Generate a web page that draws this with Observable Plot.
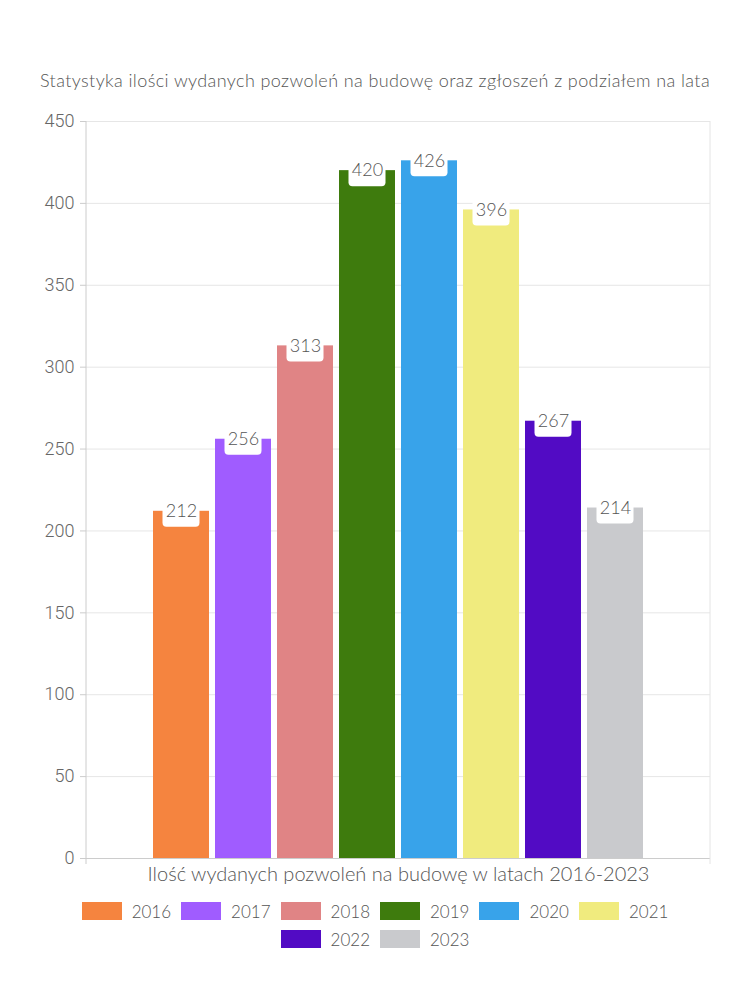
<!DOCTYPE html>
<html>
<head>
<meta charset="utf-8">
<script src="https://cdn.jsdelivr.net/npm/d3@7"></script>
<script src="https://cdn.jsdelivr.net/npm/@observablehq/plot@0.6"></script>
<style>
  body { margin: 0; background: #fff; width: 750px; }
  #title { height: 100px; position: relative; }
  #title span { position: absolute; left: 0; right: 0; top: 69px; text-align: center; font-family: Lato, "Noto Sans", sans-serif; font-weight: 300; font-size: 18px; color: #555; letter-spacing: 0.4px; white-space: nowrap; }
  #legend { display: flex; flex-wrap: wrap; justify-content: center; width: 640px; margin: 4px auto 0; row-gap: 10px; column-gap: 10px; font-family: Lato, "Noto Sans", sans-serif; font-weight: 300; font-size: 17px; letter-spacing: 0px; color: #555; }
  .item { display: flex; align-items: center; gap: 10px; height: 18px; }
  .sw { width: 40px; height: 18px; }
</style>
</head>
<body>
<div id="title"><span>Statystyka ilości wydanych pozwoleń na budowę oraz zgłoszeń z podziałem na lata</span></div>
<div id="chart"></div>
<div id="legend"></div>
<script>
const years = ["2016", "2017", "2018", "2019", "2020", "2021", "2022", "2023"];
const values = [212, 256, 313, 420, 426, 396, 267, 214];
const colors = ["#F5843F", "#A05CFF", "#E08485", "#3E7B0D", "#38A3EA", "#F0EB7E", "#520BC4", "#C9CACD"];
const yTicks = [0, 50, 100, 150, 200, 250, 300, 350, 400, 450];
const xLabel = "Ilość wydanych pozwoleń na budowę w latach 2016-2023";

const data = years.map((year, i) => ({year, value: values[i]}));

const sideLines = (index, scales, values, dims) => {
  const g = d3.create("svg:g");
  const y0 = scales.y(0), y1 = scales.y(450);
  g.append("line").attr("x1", dims.marginLeft).attr("x2", dims.marginLeft)
    .attr("y1", y1).attr("y2", y0 + 6).attr("stroke", "#cccccc");
  g.append("line").attr("x1", dims.width - dims.marginRight).attr("x2", dims.width - dims.marginRight)
    .attr("y1", y1).attr("y2", y0 + 6).attr("stroke", "#e4e4e4");
  return g.node();
};

const chart = Plot.plot({
  width: 750,
  height: 798,
  marginLeft: 86,
  marginRight: 40,
  marginTop: 21,
  marginBottom: 40,
  style: {fontFamily: "Lato, 'Noto Sans', sans-serif", color: "#555", background: "#fff"},
  x: {domain: years, range: [145.8, 650.2], padding: 0.1, axis: null},
  y: {domain: [0, 450], ticks: yTicks, label: null},
  color: {domain: years, range: colors},
  marks: [
    Plot.gridY(yTicks, {stroke: "#e6e6e6", strokeOpacity: 1}),
    Plot.axisY(yTicks, {tickSize: 6, text: null, stroke: "#cccccc", label: null}),
    Plot.text(yTicks, {x: null, y: d => d, text: d => String(d), frameAnchor: "left", textAnchor: "end", dx: -12, fontSize: 18, fontWeight: 300, fill: "#666", fontFamily: "Roboto, sans-serif", letterSpacing: 0.3}),
    Plot.barY(data, {x: "year", y: "value", fill: "year"}),
    Plot.ruleY([0], {stroke: "#cccccc"}),
    sideLines,
    Plot.rect(data, {x: "year", y1: "value", y2: "value", insetLeft: 9.5, insetRight: 9.5, insetTop: -10, insetBottom: -16, rx: 4, fill: "#fff"}),
    Plot.text(data, {x: "year", y: "value", text: d => String(d.value), fontSize: 18, fontWeight: 300, fill: "#555", dy: 0}),
    Plot.text([xLabel], {frameAnchor: "bottom", dy: 22, fontSize: 20, fontWeight: 300, letterSpacing: 1.9, fill: "#555"})
  ]
});
document.getElementById("chart").appendChild(chart);

const legend = document.getElementById("legend");
years.forEach((y, i) => {
  const it = document.createElement("div");
  it.className = "item";
  const sw = document.createElement("div");
  sw.className = "sw";
  sw.style.background = colors[i];
  const t = document.createElement("span");
  t.textContent = y;
  it.appendChild(sw); it.appendChild(t);
  legend.appendChild(it);
});
</script>
</body>
</html>
